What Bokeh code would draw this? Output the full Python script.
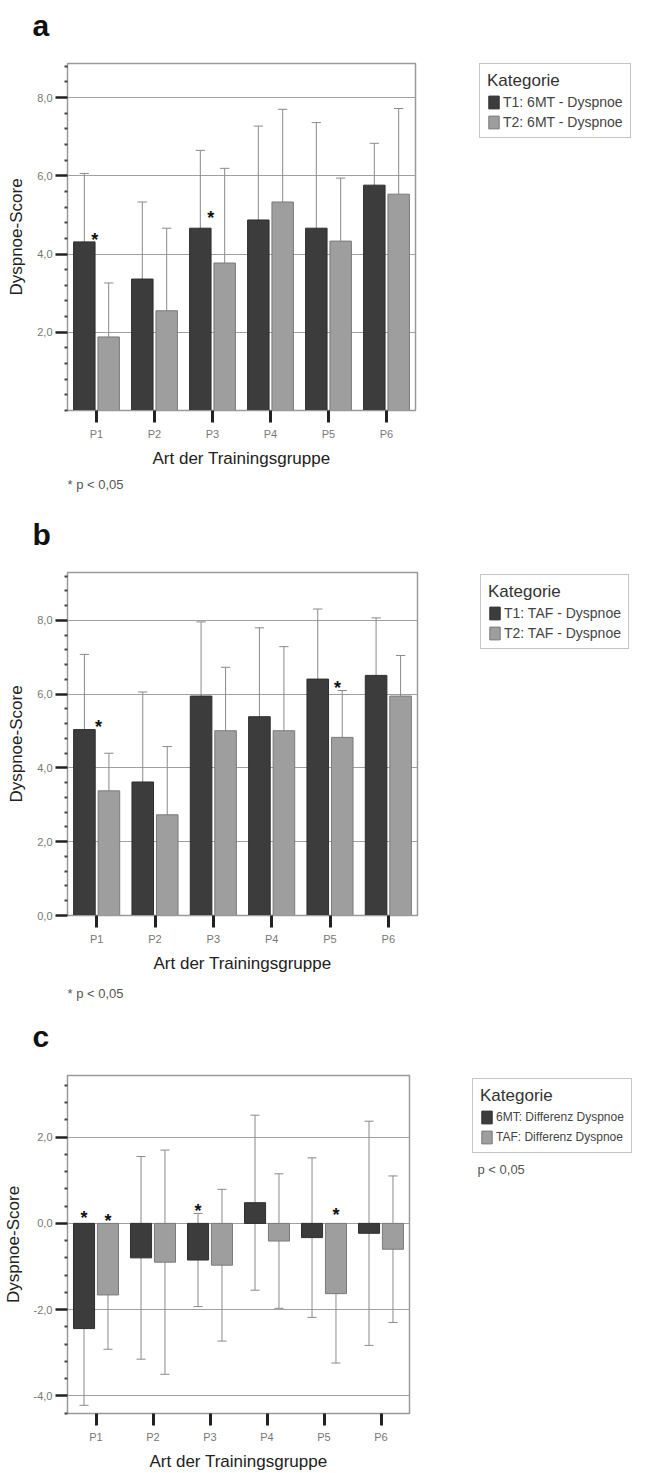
import numpy as np
from bokeh.plotting import figure
from bokeh.models import (ColumnDataSource, FactorRange, Range1d, FixedTicker,
                          Legend, LegendItem, Label)
from bokeh.transform import dodge
from bokeh.layouts import column, row
from bokeh.embed import file_html
from bokeh.resources import INLINE
from bokeh.core.properties import value

FONT = "Liberation Sans"

categories = ["P1", "P2", "P3", "P4", "P5", "P6"]

# ---- panel a: 6MT dyspnoea T1 / T2 (mean, SD)
a_t1 = [4.31, 3.36, 4.66, 4.87, 4.66, 5.76]
a_t1_sd = [1.75, 1.97, 1.99, 2.40, 2.70, 1.07]
a_t2 = [1.88, 2.55, 3.77, 5.33, 4.33, 5.53]
a_t2_sd = [1.38, 2.11, 2.42, 2.37, 1.61, 2.19]
a_labels = ["T1: 6MT - Dyspnoe", "T2: 6MT - Dyspnoe"]
a_sig_cat = ["P1", "P3"]
a_sig_off = [-0.03, -0.03]
a_sig_y = [4.48, 5.06]

# ---- panel b: TAF dyspnoea T1 / T2
b_t1 = [5.04, 3.62, 5.95, 5.39, 6.41, 6.51]
b_t1_sd = [2.04, 2.44, 2.01, 2.41, 1.90, 1.56]
b_t2 = [3.38, 2.73, 5.01, 5.01, 4.83, 5.95]
b_t2_sd = [1.02, 1.85, 1.72, 2.28, 1.27, 1.10]
b_labels = ["T1: TAF - Dyspnoe", "T2: TAF - Dyspnoe"]
b_sig_cat = ["P1", "P5"]
b_sig_off = [0.03, 0.13]
b_sig_y = [5.25, 6.30]

# ---- panel c: differences
c_6mt = [-2.44, -0.80, -0.85, 0.48, -0.33, -0.23]
c_6mt_sd = [1.78, 2.35, 1.08, 2.03, 1.85, 2.60]
c_taf = [-1.66, -0.90, -0.97, -0.41, -1.63, -0.60]
c_taf_sd = [1.26, 2.60, 1.76, 1.56, 1.61, 1.70]
c_labels = ["6MT: Differenz Dyspnoe", "TAF: Differenz Dyspnoe"]
c_sig_cat = ["P1", "P1", "P3", "P5"]
c_sig_off = [-0.21, 0.21, -0.21, 0.21]
c_sig_y = [0.23, 0.18, 0.41, 0.32]

x_title = "Art der Trainingsgruppe"
y_title = "Dyspnoe-Score"
legend_title = "Kategorie"
note_ab = "* p < 0,05"
note_c = "p < 0,05"

DARK = "#3c3c3c"
LIGHT = "#9e9e9e"
DARK_LINE = "#2e2e2e"
LIGHT_LINE = "#7a7a7a"
ERR = "#8a8a8a"
OFF = 0.21
BW = 0.37
CAP = 0.08
MAIN_W = 425
SIDE_W = 647 - MAIN_W


def fmt(v):
    return ("%.1f" % v).replace(".", ",")


def blank(width, height, top=0, bottom=0):
    f = figure(width=width, height=height, x_range=Range1d(0, 1), y_range=Range1d(0, 1),
               x_axis_location=None, y_axis_location=None, title=None,
               output_backend="svg", toolbar_location=None)
    f.min_border = 0
    f.min_border_left = 0
    f.min_border_right = 0
    f.min_border_top = top
    f.min_border_bottom = bottom
    f.outline_line_color = None
    f.grid.visible = False
    return f


def text_label(f, x, y, txt, size, style="normal", color="#555555"):
    f.add_layout(Label(x=x, y=y, x_units="screen", y_units="screen", text=txt,
                       text_font=FONT, text_font_size=size, text_font_style=style,
                       text_color=color, text_baseline="middle"))


def main_panel(height, b_top, b_bottom, frame_right, ylo, yhi, majors,
               dark, dark_sd, light, light_sd, sig_cat, sig_off, sig_y):
    p = figure(x_range=FactorRange(*categories), y_range=Range1d(ylo, yhi),
               width=MAIN_W, height=height, min_border_left=67,
               min_border_right=MAIN_W - frame_right,
               min_border_top=b_top, min_border_bottom=b_bottom,
               output_backend="svg", toolbar_location=None)
    p.outline_line_color = "#9a9a9a"
    p.outline_line_width = 1.5
    p.xgrid.visible = False

    d = np.array(dark)
    ds = np.array(dark_sd)
    l = np.array(light)
    ls = np.array(light_sd)
    src = ColumnDataSource(dict(cat=categories, d=d, d_lo=d - ds, d_hi=d + ds,
                                l=l, l_lo=l - ls, l_hi=l + ls))
    for off, lo, hi in ((-OFF, "d_lo", "d_hi"), (OFF, "l_lo", "l_hi")):
        p.segment(x0=dodge("cat", off, range=p.x_range), x1=dodge("cat", off, range=p.x_range),
                  y0=lo, y1=hi, source=src, line_color=ERR, line_width=1)
        for end in (lo, hi):
            p.segment(x0=dodge("cat", off - CAP, range=p.x_range),
                      x1=dodge("cat", off + CAP, range=p.x_range),
                      y0=end, y1=end, source=src, line_color=ERR, line_width=1)
    p.vbar(x=dodge("cat", -OFF, range=p.x_range), top="d", bottom=0, width=BW,
           source=src, fill_color=DARK, line_color=DARK_LINE, line_width=1)
    p.vbar(x=dodge("cat", OFF, range=p.x_range), top="l", bottom=0, width=BW,
           source=src, fill_color=LIGHT, line_color=LIGHT_LINE, line_width=1)

    for c, o, yv in zip(sig_cat, sig_off, sig_y):
        s = ColumnDataSource(dict(cat=[c], y=[yv], t=["*"]))
        p.text(x=dodge("cat", o, range=p.x_range), y="y", text="t", source=s,
               text_font=value(FONT), text_font_size="18px", text_font_style="bold",
               text_color="#111111", text_align="center", text_baseline="middle",
               y_offset=5)

    minors = [v for v in np.round(np.arange(-10, 10.01, 0.4), 1)
              if ylo - 1e-6 <= v <= yhi + 1e-6 and min(abs(v - m) for m in majors) > 1e-6]
    yt = FixedTicker(ticks=majors, minor_ticks=minors)
    ya = p.yaxis[0]
    ya.ticker = yt
    ya.major_label_overrides = {m: fmt(m) for m in majors}
    ya.major_tick_out = 12
    ya.major_tick_in = 0
    ya.major_tick_line_width = 2.5
    ya.major_tick_line_color = "#222222"
    ya.minor_tick_out = 3
    ya.minor_tick_in = 0
    ya.minor_tick_line_width = 2
    ya.minor_tick_line_color = "#444444"
    ya.axis_line_color = "#999999"
    ya.major_label_text_font = FONT
    ya.major_label_text_font_size = "11px"
    ya.major_label_text_color = "#777777"
    ya.major_label_standoff = 3
    ya.axis_label = y_title
    ya.axis_label_text_font = FONT
    ya.axis_label_text_font_size = "17px"
    ya.axis_label_text_font_style = "normal"
    ya.axis_label_text_color = "#222222"
    ya.axis_label_standoff = 8
    p.ygrid.ticker = yt
    p.ygrid.grid_line_color = "#a0a0a0"
    p.ygrid.grid_line_width = 1

    xa = p.xaxis[0]
    xa.major_tick_out = 12
    xa.major_tick_in = 0
    xa.major_tick_line_width = 3
    xa.major_tick_line_color = "#222222"
    xa.axis_line_color = "#999999"
    xa.major_label_text_font = FONT
    xa.major_label_text_font_size = "11px"
    xa.major_label_text_color = "#777777"
    xa.major_label_standoff = 5
    xa.axis_label = x_title
    xa.axis_label_text_font = FONT
    xa.axis_label_text_font_size = "17px"
    xa.axis_label_text_font_style = "normal"
    xa.axis_label_text_color = "#222222"
    xa.axis_label_standoff = 6
    return p


def side_panel(height, b_top, b_bottom, labels, legend_xy, label_size):
    f = blank(SIDE_W, height, b_top, b_bottom)
    # legend keys only: a single point kept outside the visible range
    key = ColumnDataSource(dict(x=[5.0], top=[5.0]))
    r1 = f.vbar(x="x", top="top", width=0.5, source=key, fill_color=DARK, line_color=DARK_LINE)
    r2 = f.vbar(x="x", top="top", width=0.5, source=key, fill_color=LIGHT, line_color=LIGHT_LINE)
    leg = Legend(items=[LegendItem(label=labels[0], renderers=[r1]),
                        LegendItem(label=labels[1], renderers=[r2])],
                 title=legend_title, location=legend_xy)
    leg.title_text_font = FONT
    leg.title_text_font_size = "17px"
    leg.title_text_font_style = "normal"
    leg.title_text_color = "#333333"
    leg.title_standoff = 3
    leg.label_text_font = FONT
    leg.label_text_font_size = label_size
    leg.label_text_color = "#444444"
    leg.glyph_width = 13
    leg.glyph_height = 16
    leg.label_height = 16
    leg.label_standoff = 3
    leg.spacing = 4
    leg.padding = 7
    leg.margin = 0
    leg.border_line_color = "#8a8a8a"
    leg.border_line_width = 1.5
    leg.background_fill_color = "white"
    f.add_layout(leg)
    return f


# ---------- panel a (page y 0..505), plot frame 63..412
ha = blank(647, 50)
text_label(ha, 32, 25, "a", "30px", "bold", "#111111")
ma = main_panel(420, 13, 58, 415, 0, 8.87, [2, 4, 6, 8],
                a_t1, a_t1_sd, a_t2, a_t2_sd, a_sig_cat, a_sig_off, a_sig_y)
sa = side_panel(420, 13, 58, a_labels, (54, 272), "14px")
fa = blank(647, 35)
text_label(fa, 67, 21, note_ab, "13px")

# ---------- panel b (page y 505..1010), plot frame 572..919
hb = blank(647, 50)
text_label(hb, 32, 21, "b", "30px", "bold", "#111111")
mb = main_panel(420, 17, 56, 417, 0, 9.3, [0, 2, 4, 6, 8],
                b_t1, b_t1_sd, b_t2, b_t2_sd, b_sig_cat, b_sig_off, b_sig_y)
sb = side_panel(420, 17, 56, b_labels, (55, 266), "14px")
fb = blank(647, 35)
text_label(fb, 67, 17, note_ab, "13px")

# ---------- panel c (page y 1010..1473), plot frame 1075..1416
hc = blank(647, 50)
text_label(hc, 32, 24, "c", "30px", "bold", "#111111")
mc = main_panel(413, 15, 57, 409, -4.41, 3.43, [-4, -2, 0, 2],
                c_6mt, c_6mt_sd, c_taf, c_taf_sd, c_sig_cat, c_sig_off, c_sig_y)
sc = side_panel(413, 15, 57, c_labels, (47, 260), "12px")
text_label(sc, 52, 244, note_c, "13px")

layout = column(ha, row(ma, sa, spacing=0), fa,
                hb, row(mb, sb, spacing=0), fb,
                hc, row(mc, sc, spacing=0), spacing=0)
open("out.html", "w").write(file_html(layout, INLINE))
